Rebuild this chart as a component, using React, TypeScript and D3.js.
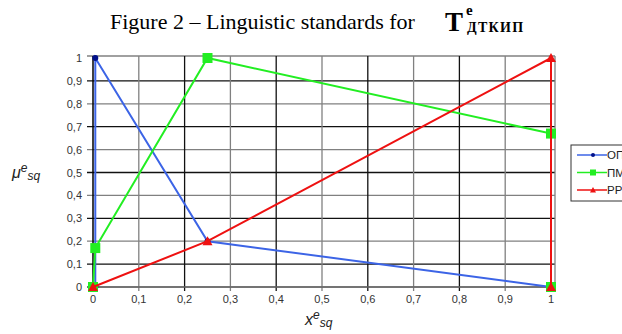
import React from "react";
import * as d3 from "d3";

const xTicks = [0, 0.1, 0.2, 0.3, 0.4, 0.5, 0.6, 0.7, 0.8, 0.9, 1];
const yTicks = [0, 0.1, 0.2, 0.3, 0.4, 0.5, 0.6, 0.7, 0.8, 0.9, 1];
const tickLabels = ["0", "0,1", "0,2", "0,3", "0,4", "0,5", "0,6", "0,7", "0,8", "0,9", "1"];

const seriesNames = ["ОПТ", "ПМ", "РР"];
const optX = [0.005, 0.005, 0.25, 1];
const optY = [0, 1, 0.2, 0];
const pmX = [0, 0.005, 0.25, 1, 1];
const pmY = [0, 0.17, 1, 0.67, 0];
const rrX = [0, 0.25, 1, 1];
const rrY = [0, 0.2, 1, 0];

const W = 622;
const H = 334;
const left = 93;
const right = 551;
const top = 58;
const bottom = 287;

export default function App() {
  const x = d3.scaleLinear().domain([0, 1]).range([left, right]);
  const y = d3.scaleLinear().domain([0, 1]).range([bottom, top]);
  const line = d3
    .line<[number, number]>()
    .x((d) => x(d[0]))
    .y((d) => y(d[1]));

  const blue = optX.map((v, i) => [v, optY[i]] as [number, number]);
  const green = pmX.map((v, i) => [v, pmY[i]] as [number, number]);
  const red = rrX.map((v, i) => [v, rrY[i]] as [number, number]);

  const blueC = "#3c64e6";
  const greenC = "#22ee22";
  const redC = "#ee1111";

  const tri = (cx: number, cy: number, s: number) =>
    `M${cx},${cy - s}L${cx + s},${cy + s * 0.8}L${cx - s},${cy + s * 0.8}Z`;

  const frameRight = x(1) + 4;
  const frameTop = y(1) - 2;
  const serif = "'Liberation Serif', 'Times New Roman', serif";

  return (
    <svg
      width={W}
      height={H}
      style={{ position: "absolute", left: 0, top: 0, background: "#fff" }}
      fontFamily="'Liberation Sans', Arial, sans-serif"
    >
      {/* title */}
      <text x={110} y={29} fontFamily={serif} fontSize={22} fill="#000">
        Figure 2 – Linguistic standards for
      </text>
      <text x={445} y={31} fontFamily={serif} fontSize={27} fontWeight="bold" fill="#000">
        T
      </text>
      <text x={466} y={15} fontFamily={serif} fontSize={15} fontWeight="bold" fill="#000">
        e
      </text>
      <text x={467} y={32} fontFamily={serif} fontSize={14} fontWeight="bold" fill="#000" letterSpacing={1.3}>
        ДТКИП
      </text>

      {/* horizontal grid */}
      {yTicks.map((t, i) => (
        <line
          key={"h" + i}
          x1={x(0) - 6}
          x2={frameRight}
          y1={i === 10 ? frameTop : y(t)}
          y2={i === 10 ? frameTop : y(t)}
          stroke={i % 2 === 1 ? "#111" : "#808080"}
          strokeWidth={1.3}
        />
      ))}
      {/* vertical grid */}
      {xTicks.map((t, i) =>
        i === 0 || i === 10 ? null : (
          <line
            key={"v" + i}
            x1={x(t)}
            x2={x(t)}
            y1={frameTop}
            y2={y(0) + 4}
            stroke={i % 2 === 0 ? "#111" : "#808080"}
            strokeWidth={1.3}
          />
        )
      )}
      <line x1={frameRight} x2={frameRight} y1={frameTop} y2={y(0) + 4} stroke="#808080" strokeWidth={1.3} />
      <line x1={x(0)} x2={x(0)} y1={frameTop} y2={y(0) + 4} stroke="#000" strokeWidth={1.5} />
      <line x1={x(0) - 6} x2={frameRight} y1={y(0)} y2={y(0)} stroke="#666" strokeWidth={1.5} />

      {/* tick labels */}
      {yTicks.map((t, i) => (
        <text key={"yl" + i} x={82} y={y(t) + 4} textAnchor="end" fontSize={11} fill="#333">
          {tickLabels[i]}
        </text>
      ))}
      {xTicks.map((t, i) => (
        <text key={"xl" + i} x={x(t)} y={303} textAnchor="middle" fontSize={11} fill="#333">
          {tickLabels[i]}
        </text>
      ))}

      {/* axis titles */}
      <text x={12} y={178} fontSize={16} fontStyle="italic" fill="#222">
        μ
        <tspan dy={-6} fontSize={12}>e</tspan>
        <tspan dy={8} fontSize={12}>sq</tspan>
      </text>
      <text x={305} y={325} fontSize={16} fontStyle="italic" fill="#222">
        x
        <tspan dy={-6} fontSize={12}>e</tspan>
        <tspan dy={8} fontSize={12}>sq</tspan>
      </text>

      {/* series */}
      <path d={line(blue) || ""} fill="none" stroke={blueC} strokeWidth={2} />
      {blue.map((d, i) => (
        <circle key={"bc" + i} cx={x(d[0])} cy={y(d[1])} r={3} fill="#00108a" />
      ))}
      <path d={line(green) || ""} fill="none" stroke={greenC} strokeWidth={2} />
      {green.map((d, i) => (
        <rect key={"gr" + i} x={x(d[0]) - 5} y={y(d[1]) - 5} width={10} height={10} fill={greenC} />
      ))}
      <path d={line(red) || ""} fill="none" stroke={redC} strokeWidth={2} />
      {red.map((d, i) => (
        <path key={"rt" + i} d={tri(x(d[0]), y(d[1]), 5)} fill={redC} />
      ))}

      {/* legend */}
      <rect x={571} y={145} width={60} height={56} fill="#fff" stroke="#333" strokeWidth={1} />
      {[blueC, greenC, redC].map((c, i) => {
        const ly = 155 + i * 17.5;
        return (
          <g key={"lg" + i}>
            <line x1={577} x2={607} y1={ly} y2={ly} stroke={c} strokeWidth={1.5} />
            {i === 0 && <circle cx={593} cy={ly} r={2} fill="#00108a" />}
            {i === 1 && <rect x={590} y={ly - 3} width={6} height={6} fill={greenC} />}
            {i === 2 && <path d={tri(593, ly, 3)} fill={redC} />}
            <text x={607} y={ly + 4} fontSize={11.5} fill="#222">
              {seriesNames[i]}
            </text>
          </g>
        );
      })}
    </svg>
  );
}
